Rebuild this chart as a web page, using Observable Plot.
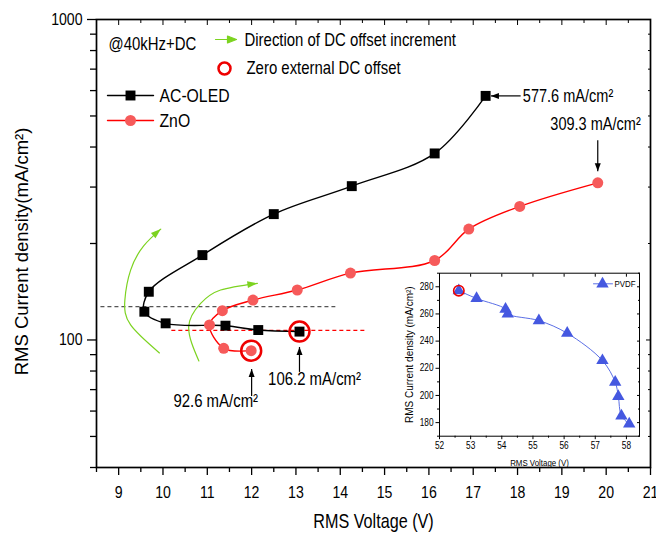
<!DOCTYPE html>
<html><head><meta charset="utf-8">
<script src="https://cdn.jsdelivr.net/npm/d3@7"></script>
<script src="https://cdn.jsdelivr.net/npm/@observablehq/plot@0.6"></script>
<style>
body{margin:0;background:#fff;}
#wrap{position:relative;width:656px;height:539px;overflow:hidden;}
#inset{position:absolute;left:390px;top:262px;}
</style></head><body><div id="wrap"><div id="main"></div><div id="inset"></div></div>
<script>
const ARIAL = '"Liberation Sans", Arial, sans-serif';
const SQUEEZE = 0.83; // horizontal text in the reference is condensed

// ---- data ----
const acOledV = [13.08, 12.15, 11.41, 10.06, 9.58, 9.68, 10.89, 12.50, 14.26, 16.13, 17.28];
const acOledJ = [106.2, 107.4, 110.8, 112.7, 122.5, 141.4, 184, 247, 302, 382, 577.6];
const znoV = [11.99, 11.37, 11.05, 11.34, 12.03, 13.03, 14.23, 16.13, 16.90, 18.05, 19.81];
const znoJ = [92.6, 94.2, 111.4, 123.4, 133.2, 143.2, 161.7, 177, 221.8, 261, 309.3];
const zeroV = [11.99, 13.08];
const zeroJ = [92.6, 106.2];
const pvdfV = [52.62, 53.19, 54.12, 54.19, 55.19, 56.10, 57.23, 57.64, 57.74, 57.84, 58.09];
const pvdfJ = [277.1, 271.4, 263.6, 260.0, 255.1, 245.8, 225.7, 209.8, 199.3, 184.9, 179.0];
// dashed reference levels
const greyLevel = [{j: 127, v1: 8.6, v2: 13.9}];
const redLevel = [{j: 107.2, v1: 10.2, v2: 14.6}];
// green "direction of DC offset increment" arcs
const arc1V = [9.92, 9.27, 9.14, 9.27, 9.56, 9.95];
const arc1J = [91.1, 111.4, 133.2, 165.2, 196.3, 221.8];
const arc2V = [10.81, 10.58, 10.85, 11.30, 12.13];
const arc2J = [86.0, 110.0, 130.1, 143.2, 150.2];
// value annotations
const noteText = ["577.6 mA/cm²", "309.3 mA/cm²", "106.2 mA/cm²", "92.6 mA/cm²"];
const noteV = [18.12, 19.76, 13.42, 11.19];
const noteJ = [577.6, 471, 75.6, 64.3];
const noteSize = [17.5, 17.5, 18, 18];
const arrowV1 = [18.07, 19.81, 13.08, 12.0];
const arrowJ1 = [577.6, 420, 79.5, 66.9];
const arrowV2 = [17.40, 19.81, 13.08, 12.0];
const arrowJ2 = [577.6, 336, 95.1, 81.2];
// ticks
const xMajor = d3.range(9, 22, 1);
const xMinor = d3.range(8.5, 21, 1);
const yMajor = [100, 1000];
const yMinor = [40, 50, 60, 70, 80, 90, 200, 300, 400, 500, 600, 700, 800, 900];
const insetXMajor = [52, 53, 54, 55, 56, 57, 58];
const insetXMinor = [52.5, 53.5, 54.5, 55.5, 56.5, 57.5];
const insetYMajor = [180, 200, 220, 240, 260, 280];
const insetYMinor = [170, 190, 210, 230, 250, 270, 290];

const acOled = acOledV.map((v, i) => ({v, j: acOledJ[i]}));
const zno = znoV.map((v, i) => ({v, j: znoJ[i]}));
const zero = zeroV.map((v, i) => ({v, j: zeroJ[i]}));
const pvdf = pvdfV.map((v, i) => ({v, j: pvdfJ[i]}));
const arc1 = arc1V.map((v, i) => ({v, j: arc1J[i]}));
const arc2 = arc2V.map((v, i) => ({v, j: arc2J[i]}));
const notes = noteText.map((t, i) => ({t, v: noteV[i], j: noteJ[i], s: noteSize[i]}));
const arrows = arrowV1.map((v1, i) => ({v1, j1: arrowJ1[i], v2: arrowV2[i], j2: arrowJ2[i]}));

function filledArrow(len, wid) {
  return (color) => {
    const ns = "http://www.w3.org/2000/svg";
    const m = document.createElementNS(ns, "marker");
    m.setAttribute("viewBox", `${-len - 1} ${-wid - 1} ${2 * len + 2} ${2 * wid + 2}`);
    m.setAttribute("markerWidth", 2 * len + 2);
    m.setAttribute("markerHeight", 2 * wid + 2);
    m.setAttribute("markerUnits", "userSpaceOnUse");
    m.setAttribute("refX", 0);
    m.setAttribute("refY", 0);
    m.setAttribute("orient", "auto");
    const p = document.createElementNS(ns, "path");
    p.setAttribute("d", `M${-len},${-wid / 2}L0,0L${-len},${wid / 2}Z`);
    p.setAttribute("fill", color);
    p.setAttribute("stroke", "none");
    m.appendChild(p);
    return m;
  };
}
const segShape = {draw(ctx, l) { ctx.moveTo(0, 0); ctx.lineTo(0, -l); }};
const arrowShape = {draw(ctx, l) {
  const h = 9, w = 3.5;
  ctx.moveTo(0, 0); ctx.lineTo(0, -l + h);
  ctx.moveTo(-w, -l + h); ctx.lineTo(0, -l); ctx.lineTo(w, -l + h); ctx.closePath();
}};

const GREEN = "#7cd320";
const RED = "#ff0000";
const REDFILL = "#f65a5a";
const RINGRED = "#ee0000";
const none = () => "";
const mid = {lineAnchor: "middle"};

const main = Plot.plot({
  width: 656, height: 539,
  marginLeft: 96, marginRight: 6, marginTop: 19, marginBottom: 72,
  style: {fontFamily: ARIAL, fontSize: "17px", color: "black", background: "white", overflow: "visible"},
  x: {domain: [8.5, 21]},
  y: {type: "log", domain: [40, 1000]},
  marks: [
    Plot.axisX(xMajor, {anchor: "bottom", tickSize: 8, tickPadding: 10, tickFormat: d => String(d), label: null, strokeWidth: 1.3}),
    Plot.axisX(xMinor, {anchor: "bottom", tickSize: 5, tickFormat: none, label: null, strokeWidth: 1.3}),
    Plot.axisX(xMajor, {anchor: "top", tickSize: -5, tickFormat: none, label: null}),
    Plot.axisX(xMinor, {anchor: "top", tickSize: -3, tickFormat: none, label: null}),
    Plot.axisY(yMajor, {anchor: "left", tickSize: 9, tickPadding: 5, tickFormat: d => String(d), label: null, strokeWidth: 1.3}),
    Plot.axisY(yMinor, {anchor: "left", tickSize: 6, tickFormat: none, label: null, strokeWidth: 1.3}),
    Plot.axisY(yMajor, {anchor: "right", tickSize: -5, tickFormat: none, label: null}),
    Plot.axisY(yMinor, {anchor: "right", tickSize: -3, tickFormat: none, label: null}),
    Plot.frame({stroke: "black", strokeWidth: 1.7}),
    Plot.ruleY(greyLevel, {y: "j", x1: "v1", x2: "v2", stroke: "#555", strokeDasharray: "4,3", strokeWidth: 1.2}),
    Plot.ruleY(redLevel, {y: "j", x1: "v1", x2: "v2", stroke: RED, strokeDasharray: "4,3", strokeWidth: 1.2}),
    Plot.line(arc1, {x: "v", y: "j", curve: "natural", stroke: GREEN, strokeWidth: 1.2, markerEnd: filledArrow(10, 7)}),
    Plot.line(arc2, {x: "v", y: "j", curve: "natural", stroke: GREEN, strokeWidth: 1.2, markerEnd: filledArrow(10, 7)}),
    Plot.line(acOled, {x: "v", y: "j", curve: "catmull-rom", stroke: "black", strokeWidth: 1.4}),
    Plot.dot(acOled, {x: "v", y: "j", symbol: "square", r: 5.6, fill: "black"}),
    Plot.line(zno, {x: "v", y: "j", curve: "catmull-rom", stroke: RED, strokeWidth: 1.4}),
    Plot.dot(zno, {x: "v", y: "j", r: 5.5, fill: REDFILL}),
    Plot.dot(zero, {x: "v", y: "j", r: 10, stroke: RINGRED, strokeWidth: 2.5, fill: "none"}),
    Plot.link(arrows, {x1: "v1", y1: "j1", x2: "v2", y2: "j2", stroke: "black", strokeWidth: 1.2, markerEnd: filledArrow(8, 6)}),
    Plot.text(notes.slice(0, 1), {x: "v", y: "j", text: "t", textAnchor: "start", fontSize: notes[0].s}),
    Plot.text(notes.slice(1, 2), {x: "v", y: "j", text: "t", textAnchor: "middle", fontSize: notes[1].s}),
    Plot.text(notes.slice(2), {x: "v", y: "j", text: "t", textAnchor: "middle", fontSize: notes[2].s}),
    // legend
    Plot.text(["@40kHz+DC"], {frameAnchor: "top-left", dx: 12, dy: 25, textAnchor: "start", fontSize: 18, ...mid}),
    Plot.vector([0], {frameAnchor: "top-left", dx: 119, dy: 20, rotate: 90, length: 21, anchor: "start", shape: arrowShape, stroke: GREEN, fill: GREEN, strokeWidth: 1.2}),
    Plot.text(["Direction of DC offset increment"], {frameAnchor: "top-left", dx: 148, dy: 21, textAnchor: "start", fontSize: 18, ...mid}),
    Plot.dot([0], {frameAnchor: "top-left", dx: 128, dy: 49, r: 6, stroke: RINGRED, strokeWidth: 2.5, fill: "none"}),
    Plot.text(["Zero external DC offset"], {frameAnchor: "top-left", dx: 150, dy: 49, textAnchor: "start", fontSize: 18, ...mid}),
    Plot.vector([0], {frameAnchor: "top-left", dx: 11, dy: 76, rotate: 90, length: 46, anchor: "start", shape: segShape, stroke: "black", strokeWidth: 1.4}),
    Plot.dot([0], {frameAnchor: "top-left", dx: 34, dy: 76, symbol: "square", r: 5.6, fill: "black"}),
    Plot.text(["AC-OLED"], {frameAnchor: "top-left", dx: 63, dy: 76, textAnchor: "start", fontSize: 19, ...mid}),
    Plot.vector([0], {frameAnchor: "top-left", dx: 11, dy: 101, rotate: 90, length: 46, anchor: "start", shape: segShape, stroke: RED, strokeWidth: 1.4}),
    Plot.dot([0], {frameAnchor: "top-left", dx: 34, dy: 101, r: 5.5, fill: REDFILL}),
    Plot.text(["ZnO"], {frameAnchor: "top-left", dx: 63, dy: 101, textAnchor: "start", fontSize: 19, ...mid}),
    // axis titles
    Plot.text(["RMS Voltage (V)"], {frameAnchor: "bottom", dy: 54, textAnchor: "middle", fontSize: 19.5, ...mid}),
    Plot.text(["RMS Current density(mA/cm²)"], {frameAnchor: "left", dx: -74, dy: 8, rotate: -90, textAnchor: "middle", fontSize: 18.5, ...mid})
  ]
});
document.getElementById("main").appendChild(main);

const inset = Plot.plot({
  width: 260, height: 215,
  marginLeft: 49, marginRight: 11, marginTop: 10.7, marginBottom: 41.3,
  style: {fontFamily: ARIAL, fontSize: "10px", color: "black", background: "transparent", overflow: "visible"},
  x: {domain: [52, 58.42]},
  y: {domain: [170, 290]},
  marks: [
    Plot.frame({fill: "white"}),
    Plot.axisX(insetXMajor, {anchor: "bottom", tickSize: 3.5, tickPadding: 2.5, tickFormat: d => String(d), label: null}),
    Plot.axisX(insetXMinor, {anchor: "bottom", tickSize: 2, tickFormat: none, label: null}),
    Plot.axisX(insetXMajor, {anchor: "top", tickSize: -3, tickFormat: none, label: null}),
    Plot.axisY(insetYMajor, {anchor: "left", tickSize: 3.5, tickPadding: 2.5, tickFormat: d => String(d), label: null}),
    Plot.axisY(insetYMinor, {anchor: "left", tickSize: 2, tickFormat: none, label: null}),
    Plot.axisY(insetYMajor, {anchor: "right", tickSize: -3, tickFormat: none, label: null}),
    Plot.axisY(insetYMinor, {anchor: "right", tickSize: -2, tickFormat: none, label: null}),
    Plot.frame({stroke: "black", strokeWidth: 1}),
    Plot.line(pvdf, {x: "v", y: "j", curve: "catmull-rom", stroke: "#5b6fe6", strokeWidth: 1}),
    Plot.dot(pvdf, {x: "v", y: "j", symbol: "triangle", r: 4.6, fill: "#4558e0"}),
    Plot.dot([pvdf[0]], {x: "v", y: "j", r: 5.2, stroke: RINGRED, strokeWidth: 1.6, fill: "none"}),
    Plot.vector([0], {frameAnchor: "top-right", dx: -46, dy: 10.6, rotate: 90, length: 19, anchor: "start", shape: segShape, stroke: "#5b6fe6", strokeWidth: 1}),
    Plot.dot([0], {frameAnchor: "top-right", dx: -37, dy: 10.6, symbol: "triangle", r: 4.6, fill: "#4558e0"}),
    Plot.text(["PVDF"], {frameAnchor: "top-right", dx: -25, dy: 10.6, textAnchor: "start", fontSize: 9.5, ...mid}),
    Plot.text(["RMS Voltage (V)"], {frameAnchor: "bottom", dy: 27, textAnchor: "middle", fontSize: 9.5, ...mid}),
    Plot.text(["RMS Current density (mA/cm²)"], {frameAnchor: "left", dx: -30, rotate: -90, textAnchor: "middle", fontSize: 10, ...mid})
  ]
});
document.getElementById("inset").appendChild(inset);

// condense horizontal text, like the reference's narrow lettering
for (const svg of [main, inset]) {
  svg.querySelectorAll("text").forEach(t => {
    const tr = t.getAttribute("transform") || "";
    if (/rotate/.test(tr)) return;
    t.setAttribute("transform", `${tr} scale(${SQUEEZE},1)`);
  });
}
</script>
</body></html>
